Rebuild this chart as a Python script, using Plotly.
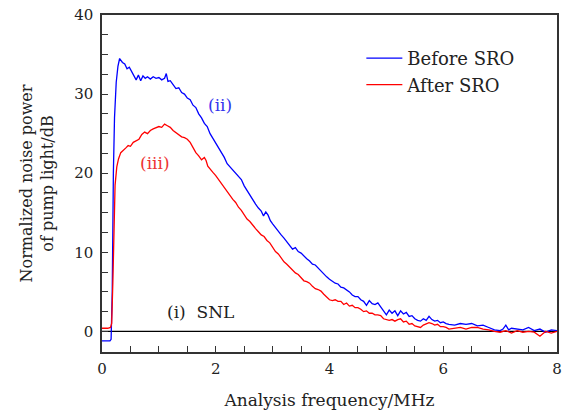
import plotly.graph_objects as go

# ---- data ----
before_x = [0, 0.05, 0.10, 0.14, 0.16, 0.18, 0.20, 0.22, 0.25, 0.28, 0.31, 0.33, 0.36, 0.40, 0.44, 0.48,
            0.52, 0.56, 0.60, 0.64, 0.68, 0.72, 0.76, 0.80, 0.85, 0.90, 0.95, 1.00, 1.05, 1.10, 1.13, 1.16,
            1.20, 1.25, 1.30, 1.35, 1.40, 1.45, 1.50, 1.55, 1.60, 1.65, 1.70, 1.75, 1.80, 1.85, 1.90, 1.95,
            2.00, 2.05, 2.10, 2.15, 2.20, 2.25, 2.30, 2.35, 2.40, 2.45, 2.50, 2.55, 2.60, 2.65, 2.70, 2.75,
            2.80, 2.84, 2.88, 2.92, 2.96, 3.00, 3.05, 3.10, 3.15, 3.20, 3.25, 3.30, 3.35, 3.40, 3.45, 3.50,
            3.55, 3.60, 3.65, 3.70, 3.75, 3.80, 3.85, 3.90, 3.95, 4.00, 4.05, 4.10, 4.15, 4.20, 4.25, 4.30,
            4.35, 4.40, 4.45, 4.50, 4.55, 4.60, 4.65, 4.70, 4.75, 4.80, 4.85, 4.90, 4.95, 5.00, 5.05, 5.10,
            5.15, 5.20, 5.25, 5.30, 5.35, 5.40, 5.45, 5.50, 5.55, 5.60, 5.65, 5.70, 5.75, 5.80, 5.85, 5.90,
            5.95, 6.00, 6.05, 6.10, 6.20, 6.30, 6.40, 6.50, 6.60, 6.70, 6.80, 6.90, 7.00, 7.05, 7.10, 7.15,
            7.20, 7.30, 7.40, 7.50, 7.55, 7.60, 7.70, 7.80, 7.90, 8.00]
before_y = [-1.2, -1.2, -1.2, -1.2, -1.0, 5.0, 20.0, 27.0, 31.5, 33.5, 34.5, 34.3, 34.0, 33.8, 33.2, 33.4,
            32.8, 32.2, 31.8, 32.4, 31.7, 32.3, 32.0, 32.2, 31.9, 32.2, 32.0, 32.1, 31.8, 32.0, 32.6, 31.6,
            31.7, 31.2, 30.7, 30.8, 30.2, 30.0, 29.5, 29.3, 28.6, 28.3, 27.5, 27.0, 26.3, 25.9, 25.0, 24.4,
            23.8, 23.1, 22.6, 22.0, 21.2, 20.8, 20.4, 19.9, 19.5, 19.2, 18.4, 17.8, 17.2, 16.6, 16.1, 15.6,
            15.2, 14.6, 15.1, 14.7, 14.0, 13.6, 13.1, 12.7, 12.2, 11.8, 11.3, 10.9, 10.4, 10.6, 10.1, 9.9,
            9.5, 9.2, 8.9, 8.5, 8.4, 8.0, 7.6, 7.3, 6.9, 6.6, 6.3, 6.1, 6.0, 5.6, 5.5, 5.3,
            5.0, 4.6, 4.4, 4.4, 4.0, 3.8, 3.3, 3.9, 3.5, 3.4, 3.6, 3.1, 2.6, 2.1, 2.7, 2.3,
            2.6, 2.0, 2.6, 2.2, 2.4, 1.9, 2.0, 1.6, 1.4, 1.3, 1.6, 1.4, 1.9, 1.5, 1.3, 1.4,
            1.1, 1.2, 1.0, 0.9, 0.8, 1.0, 0.9, 1.0, 0.7, 0.8, 0.5, 0.2, 0.1, 0.3, 0.8, 0.2,
            0.4, 0.3, 0.2, 0.5, 0.3, 0.1, 0.3, -0.1, 0.2, 0.1]

after_x = [0, 0.10, 0.15, 0.17, 0.19, 0.21, 0.23, 0.26, 0.29, 0.33, 0.38, 0.42, 0.46, 0.50, 0.55, 0.60,
           0.65, 0.70, 0.75, 0.80, 0.85, 0.90, 0.95, 1.00, 1.05, 1.10, 1.15, 1.20, 1.25, 1.30, 1.35, 1.40,
           1.45, 1.50, 1.55, 1.60, 1.65, 1.70, 1.75, 1.80, 1.83, 1.86, 1.90, 1.95, 2.00, 2.05, 2.10, 2.15,
           2.20, 2.25, 2.30, 2.35, 2.40, 2.45, 2.50, 2.55, 2.60, 2.65, 2.70, 2.75, 2.80, 2.85, 2.90, 2.95,
           3.00, 3.05, 3.10, 3.15, 3.20, 3.25, 3.30, 3.35, 3.40, 3.45, 3.50, 3.55, 3.60, 3.65, 3.70, 3.75,
           3.80, 3.85, 3.90, 3.95, 4.00, 4.05, 4.10, 4.15, 4.20, 4.25, 4.30, 4.35, 4.40, 4.45, 4.50, 4.55,
           4.60, 4.65, 4.70, 4.75, 4.80, 4.85, 4.90, 4.95, 5.00, 5.05, 5.10, 5.15, 5.20, 5.25, 5.30, 5.35,
           5.40, 5.45, 5.50, 5.55, 5.60, 5.65, 5.70, 5.75, 5.80, 5.85, 5.90, 5.95, 6.00, 6.05, 6.10, 6.20,
           6.30, 6.40, 6.50, 6.60, 6.70, 6.80, 6.90, 7.00, 7.10, 7.20, 7.30, 7.40, 7.50, 7.60, 7.70, 7.75,
           7.80, 7.90, 8.00]
after_y = [0.4, 0.4, 0.5, 1.0, 6.0, 14.0, 18.5, 20.8, 21.8, 22.6, 23.0, 23.2, 23.5, 23.4, 23.9, 24.1,
           24.3, 24.9, 25.2, 25.0, 25.4, 25.6, 25.7, 25.9, 25.8, 26.2, 26.0, 25.8, 25.4, 25.1, 24.8, 24.6,
           24.5, 24.3, 23.9, 23.3, 22.6, 22.2, 21.7, 22.0, 21.6, 20.9, 20.6, 20.1, 19.7, 19.2, 18.7, 18.1,
           17.6, 17.1, 16.7, 16.3, 15.7, 15.3, 14.8, 14.2, 13.9, 13.4, 13.0, 12.6, 12.2, 12.0, 11.5, 11.2,
           10.6, 10.1, 9.8, 9.3, 8.8, 8.5, 8.1, 7.8, 7.4, 7.2, 6.8, 6.4, 6.3, 6.1, 5.7, 5.4,
           5.3, 5.1, 4.7, 4.3, 4.0, 3.9, 4.0, 3.8, 3.8, 3.4, 3.6, 3.2, 3.3, 3.0, 3.0, 2.8,
           2.5, 2.6, 2.3, 2.3, 2.1, 2.1, 2.0, 1.6, 1.5, 1.4, 1.5, 1.3, 1.5, 1.6, 1.2, 1.3,
           0.9, 1.0, 0.7, 0.6, 0.5, 0.8, 1.0, 1.1, 1.0, 0.8, 0.9, 0.6, 0.6, 0.5, 0.3, 0.4,
           0.5, 0.3, 0.5, 0.5, 0.3, 0.2, 0.0, -0.1, 0.1, -0.2, 0.1, -0.1, 0.0, -0.1, -0.6, -0.3,
           0.0, -0.2, 0.0]

snl_x = [0, 8]
snl_y = [0, 0]

x_ticks = [0, 2, 4, 6, 8]
y_ticks = [0, 10, 20, 30, 40]

FONT = "DejaVu Serif"
TXT = "#222222"
AX = "#333333"

fig = go.Figure()
fig.add_trace(go.Scatter(x=snl_x, y=snl_y, mode="lines", line=dict(color="black", width=1.2),
                         showlegend=False, hoverinfo="skip"))
fig.add_trace(go.Scatter(x=before_x, y=before_y, mode="lines", name="Before SRO",
                         line=dict(color="#0000ff", width=1.3)))
fig.add_trace(go.Scatter(x=after_x, y=after_y, mode="lines", name="After SRO",
                         line=dict(color="#ff0000", width=1.3)))

fig.add_annotation(x=2.08, y=28.6, text="(ii)", showarrow=False,
                   font=dict(family=FONT, size=17, color="#3333ee"))
fig.add_annotation(x=0.94, y=21.3, text="(iii)", showarrow=False,
                   font=dict(family=FONT, size=17, color="#ee3333"))
fig.add_annotation(x=1.73, y=2.4, text="(i)  SNL", showarrow=False,
                   font=dict(family=FONT, size=17, color=TXT))

axis_common = dict(showline=True, linecolor=AX, linewidth=1.5, mirror=True,
                   showgrid=False, zeroline=False, ticks="inside", ticklen=6,
                   tickcolor=AX, tickwidth=1.4, automargin=False,
                   ticklabeloverflow="allow",
                   tickfont=dict(family=FONT, size=15, color=TXT))

fig.update_xaxes(range=[0, 8], tickmode="array", tickvals=x_ticks, ticklabelstandoff=2,
                 minor=dict(dtick=0.5, tick0=0, ticks="inside", ticklen=6, tickcolor=AX, tickwidth=1.4),
                 title=dict(text="Analysis frequency/MHz", font=dict(family=FONT, size=17, color=TXT),
                            standoff=20),
                 **axis_common)
fig.update_yaxes(range=[-2.6, 40], tickmode="array", tickvals=y_ticks, ticklabelstandoff=4,
                 minor=dict(dtick=2.5, tick0=0, ticks="inside", ticklen=6, tickcolor=AX, tickwidth=1.4),
                 title=dict(text="Normalized noise power<br>of pump light/dB",
                            font=dict(family=FONT, size=16, color=TXT), standoff=17),
                 **axis_common)

fig.update_layout(
    width=567, height=410,
    margin=dict(l=102, r=10, t=15, b=58),
    paper_bgcolor="white", plot_bgcolor="white",
    font=dict(family=FONT, size=15, color=TXT),
    legend=dict(x=0.570, y=0.926, xanchor="left", yanchor="top", bgcolor="rgba(0,0,0,0)",
                itemwidth=36,
                font=dict(family=FONT, size=18, color=TXT), tracegroupgap=0),
)

# remove the default 8px page margin so the figure fills the 567x410 window exactly
fig.write_html("out.html", config={"displayModeBar": False},
               post_script="document.body.style.margin='0';")
